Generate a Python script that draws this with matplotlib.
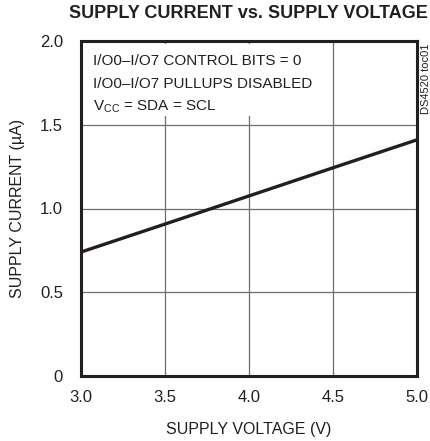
import matplotlib.pyplot as plt
from matplotlib.patches import Rectangle

plt.rcParams["font.family"] = ["Liberation Sans Narrow", "Liberation Sans", "DejaVu Sans"]

# ======================================================
# Data
# ======================================================

supply_voltage = [3.0, 3.5, 4.0, 4.5, 5.0]
supply_current = [0.74, 0.907, 1.075, 1.243, 1.41]

x_ticks = [3.0, 3.5, 4.0, 4.5, 5.0]
y_ticks = [0, 0.5, 1.0, 1.5, 2.0]
y_tick_labels = ["0", "0.5", "1.0", "1.5", "2.0"]

note_lines = [
    "I/O0–I/O7 CONTROL BITS = 0",
    "I/O0–I/O7 PULLUPS DISABLED",
    r"V$_{\mathregular{CC}}$ = SDA = SCL",
]

INK = "#231f20"
GRID = "#6d6e70"

# ======================================================
# Plot
# ======================================================

fig = plt.figure(figsize=(4.30, 4.41), dpi=100)
ax = fig.add_axes([81 / 430, 1 - 376 / 441, 336 / 430, 335 / 441])

ax.plot(supply_voltage, supply_current, color=INK, linewidth=2.4,
        solid_capstyle="butt", zorder=4)

ax.set_xlim(3.0, 5.0)
ax.set_ylim(0, 2.0)
ax.set_xticks(x_ticks)
ax.set_xticklabels([f"{v:.1f}" for v in x_ticks])
ax.set_yticks(y_ticks)
ax.set_yticklabels(y_tick_labels)
ax.tick_params(length=0, labelsize=12, colors=INK)
ax.tick_params(axis="y", pad=13)
ax.tick_params(axis="x", pad=10)

ax.grid(True, color=GRID, linewidth=0.9)
ax.set_axisbelow(True)
for s in ax.spines.values():
    s.set_linewidth(2.2)
    s.set_color(INK)
    s.set_zorder(5)

# white backing behind the note, hides the grid lines there
ax.add_patch(Rectangle((0.0, (376 - 116) / 335), 0.7, (116 - 44) / 335,
                       transform=ax.transAxes, facecolor="white",
                       edgecolor="none", zorder=2))

ax.set_xlabel("SUPPLY VOLTAGE (V)", fontsize=11.5, color=INK, labelpad=12)
ax.set_ylabel("SUPPLY CURRENT (µA)", fontsize=11.5, color=INK, labelpad=11)

fig.text(248 / 430, 1 - 13.5 / 441, "SUPPLY CURRENT vs. SUPPLY VOLTAGE",
         ha="center", va="center", fontsize=13, fontweight="bold", color=INK)

for i, line in enumerate(note_lines):
    ax.text(0.035, (376 - 61 - 23 * i) / 335, line, transform=ax.transAxes,
            fontsize=11, color=INK, va="center", zorder=3)

fig.text(426 / 430, 1 - 43 / 441, "DS4520 toc01", rotation=90, ha="center",
         va="top", fontsize=8, color=INK)

fig.savefig("out.png", dpi=100)
